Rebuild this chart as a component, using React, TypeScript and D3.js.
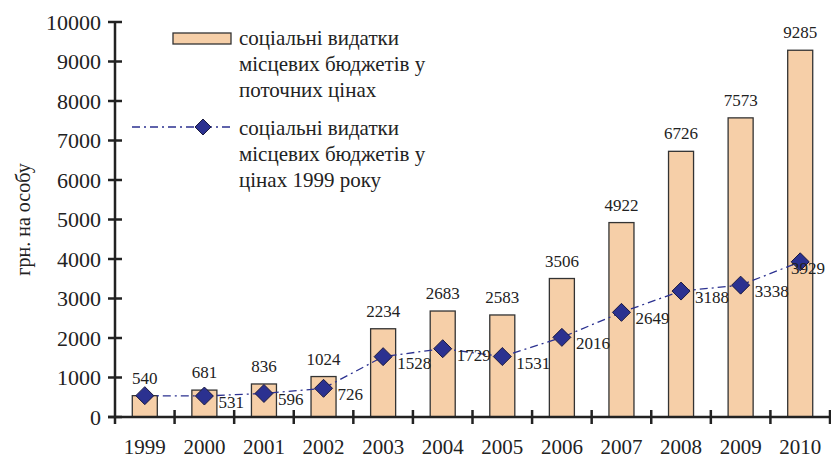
import React from 'react';
import { scaleBand, scaleLinear, line } from 'd3';

const years = ['1999', '2000', '2001', '2002', '2003', '2004', '2005', '2006', '2007', '2008', '2009', '2010'];
const currentPrices = [540, 681, 836, 1024, 2234, 2683, 2583, 3506, 4922, 6726, 7573, 9285];
const prices1999 = [540, 531, 596, 726, 1528, 1729, 1531, 2016, 2649, 3188, 3338, 3929];
const yTicks = [0, 1000, 2000, 3000, 4000, 5000, 6000, 7000, 8000, 9000, 10000];

const width = 831;
const height = 460;
const left = 115;
const right = 830;
const top = 22;
const bottom = 417;

const barFill = '#F6CFA8';
const lineColor = '#2B3190';
const font = '"Liberation Serif", "Times New Roman", serif';

const diamond = (x: number, y: number, r: number) =>
  `M${x},${y - r}L${x + r},${y}L${x},${y + r}L${x - r},${y}Z`;

const App = () => {
  const xScale = scaleBand().domain(years).range([left, right]);
  const yScale = scaleLinear().domain([0, 10000]).range([bottom, top]);
  const bw = xScale.bandwidth() * 0.42;
  const cx = (y: string) => (xScale(y) as number) + xScale.bandwidth() / 2;

  const path = line<number>()
    .x((_, i) => cx(years[i]))
    .y(d => yScale(d))(prices1999);

  return (
    <svg width={width} height={height} style={{ position: 'absolute', left: 0, top: 0, background: '#fff' }}>
      {/* bars */}
      {years.map((y, i) => (
        <rect
          key={y}
          x={cx(y) - bw / 2}
          y={yScale(currentPrices[i])}
          width={bw}
          height={bottom - yScale(currentPrices[i])}
          fill={barFill}
          stroke="#333"
          strokeWidth={1.3}
        />
      ))}
      {years.map((y, i) => (
        <text key={'bl' + y} x={cx(y)} y={yScale(currentPrices[i]) - 12} textAnchor="middle"
          fontFamily={font} fontSize={17} fill="#222">{currentPrices[i]}</text>
      ))}

      {/* axes */}
      <line x1={left} x2={left} y1={top} y2={bottom + 7} stroke="#222" strokeWidth={2.5} />
      <line x1={left - 7} x2={right} y1={bottom} y2={bottom} stroke="#222" strokeWidth={2.5} />
      {yTicks.map(t => (
        <g key={t}>
          <line x1={left - 7} x2={left + 7} y1={yScale(t)} y2={yScale(t)} stroke="#222" strokeWidth={2.5} />
          <text x={left - 14} y={yScale(t)} dy="0.35em" textAnchor="end" fontFamily={font} fontSize={22} fill="#222">{t}</text>
        </g>
      ))}
      {years.map(y => (
        <g key={'xt' + y}>
          <line x1={(xScale(y) as number) + xScale.bandwidth()} x2={(xScale(y) as number) + xScale.bandwidth()}
            y1={bottom - 7} y2={bottom + 7} stroke="#222" strokeWidth={2.5} />
          <text x={cx(y)} y={bottom + 37} textAnchor="middle" fontFamily={font} fontSize={21} fill="#222">{y}</text>
        </g>
      ))}
      <text transform={`translate(30,${(top + bottom) / 2}) rotate(-90)`} textAnchor="middle"
        fontFamily={font} fontSize={20} fill="#222">грн. на особу</text>

      {/* line */}
      <path d={path ?? ''} fill="none" stroke={lineColor} strokeWidth={1.3} strokeDasharray="8,4,2,4" />
      {years.map((y, i) => (
        <path key={'m' + y} d={diamond(cx(y), yScale(prices1999[i]), 9)} fill={lineColor} stroke="#1a1a40" strokeWidth={1} />
      ))}
      {years.map((y, i) => i > 0 && (
        <text key={'ll' + y} x={Math.min(cx(y) + 14, width - 40)} y={yScale(prices1999[i]) + 12}
          fontFamily={font} fontSize={17} fill="#222">{prices1999[i]}</text>
      ))}

      {/* legend */}
      <rect x={173} y={33} width={58} height={11} fill={barFill} stroke="#333" strokeWidth={1.3} />
      <text fontFamily={font} fontSize={21} fill="#222">
        <tspan x={239} y={45}>соціальні видатки</tspan>
        <tspan x={239} y={71}>місцевих бюджетів у</tspan>
        <tspan x={239} y={97}>поточних цінах</tspan>
      </text>
      <line x1={132} x2={231} y1={127} y2={127} stroke={lineColor} strokeWidth={1.3} strokeDasharray="8,4,2,4" />
      <path d={diamond(203, 127, 8)} fill={lineColor} stroke="#1a1a40" strokeWidth={1} />
      <text fontFamily={font} fontSize={21} fill="#222">
        <tspan x={239} y={135}>соціальні видатки</tspan>
        <tspan x={239} y={161}>місцевих бюджетів у</tspan>
        <tspan x={239} y={187}>цінах 1999 року</tspan>
      </text>
    </svg>
  );
};

export default App;
